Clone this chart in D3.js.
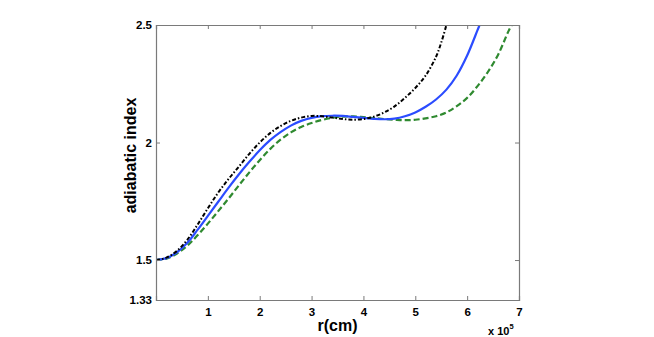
<!DOCTYPE html>
<html>
<head>
<meta charset="utf-8">
<script src="https://cdn.jsdelivr.net/npm/d3@7"></script>
<style>
  body { margin: 0; background: #fff; }
  svg text { font-family: "Liberation Sans", Arial, sans-serif; font-weight: bold; fill: #000; }
</style>
</head>
<body>
<svg id="chart"></svg>
<script>
// radius in units of 1e5 cm
var rGrid = [0, 0.2, 0.4, 0.6, 0.8, 1.0, 1.2, 1.4, 1.6, 1.8, 2.0, 2.2, 2.4, 2.6, 2.8, 3.0,
             3.2, 3.4, 3.6, 3.8, 4.0, 4.2, 4.4, 4.6, 4.8, 5.0, 5.2, 5.4, 5.6, 5.8, 6.0,
             6.2, 6.4, 6.6, 6.8];

var blackR = rGrid.slice(0, 28).concat([5.5, 5.6]);
var blackG = [1.500, 1.510, 1.538, 1.585, 1.650, 1.720, 1.787, 1.845, 1.898, 1.952, 2.000,
              2.040, 2.070, 2.092, 2.106, 2.113, 2.112, 2.106, 2.100, 2.097, 2.100, 2.110,
              2.128, 2.154, 2.190, 2.232, 2.285, 2.365, 2.425, 2.500];

var blueR = rGrid.slice(0, 32).concat([6.24]);
var blueG = [1.500, 1.508, 1.532, 1.572, 1.628, 1.688, 1.748, 1.808, 1.865, 1.918, 1.967,
             2.010, 2.044, 2.072, 2.092, 2.105, 2.112, 2.114, 2.113, 2.109, 2.105, 2.101,
             2.099, 2.102, 2.112, 2.128, 2.152, 2.183, 2.225, 2.285, 2.370, 2.478, 2.500];

var greenR = rGrid.concat([6.86]);
var greenG = [1.500, 1.506, 1.527, 1.560, 1.605, 1.655, 1.708, 1.762, 1.818, 1.873, 1.925,
              1.972, 2.012, 2.043, 2.066, 2.083, 2.096, 2.105, 2.110, 2.111, 2.108, 2.104,
              2.100, 2.097, 2.095, 2.097, 2.103, 2.112, 2.128, 2.155, 2.190, 2.240, 2.300,
              2.375, 2.475, 2.500];

var xTicks = [1, 2, 3, 4, 5, 6, 7];
var yTicks = [1.33, 1.5, 2, 2.5];

var width = 654, height = 337;
var plotLeft = 156, plotTop = 25, plotRight = 519, plotBottom = 300;

var svg = d3.select('#chart')
    .attr('width', width)
    .attr('height', height);

var x = d3.scaleLinear().domain([0, 7]).range([plotLeft, plotRight]);
var y = d3.scaleLinear().domain([1.33, 2.5]).range([plotBottom, plotTop]);

function toPoints(rs, gs) {
    return rs.map(function(r, i) { return {r: r, g: gs[i]}; });
}

var line = d3.line()
    .x(function(d) { return x(d.r); })
    .y(function(d) { return y(d.g); })
    .curve(d3.curveCatmullRom.alpha(0.5));

svg.append('clipPath').attr('id', 'plot-clip')
    .append('rect')
    .attr('x', plotLeft).attr('y', plotTop)
    .attr('width', plotRight - plotLeft).attr('height', plotBottom - plotTop);

var curves = svg.append('g').attr('clip-path', 'url(#plot-clip)');

curves.append('path')
    .datum(toPoints(greenR, greenG))
    .attr('d', line)
    .attr('fill', 'none')
    .attr('stroke', '#2f8a30')
    .attr('stroke-width', 2.2)
    .attr('stroke-dasharray', '6,3');

curves.append('path')
    .datum(toPoints(blueR, blueG))
    .attr('d', line)
    .attr('fill', 'none')
    .attr('stroke', '#2b4cff')
    .attr('stroke-width', 2.2);

curves.append('path')
    .datum(toPoints(blackR, blackG))
    .attr('d', line)
    .attr('fill', 'none')
    .attr('stroke', '#000')
    .attr('stroke-width', 2)
    .attr('stroke-dasharray', '4,2,1.5,2');

// axes box with inward ticks
var axisColor = '#7a7a7a';

var xAxisB = d3.axisBottom(x).tickValues(xTicks).tickSize(-4).tickPadding(8).tickFormat(d3.format('d'));
var xAxisT = d3.axisTop(x).tickValues(xTicks).tickSize(-4).tickFormat('');
var yAxisL = d3.axisLeft(y).tickValues(yTicks).tickSize(-4).tickPadding(4).tickFormat(function(d) { return String(d); });
var yAxisR = d3.axisRight(y).tickValues(yTicks).tickSize(-4).tickFormat('');

function styleAxis(g) {
    g.selectAll('path, line').attr('stroke', axisColor);
    g.selectAll('text').attr('font-size', 11.5).attr('font-family', null).attr('fill', '#000');
}

svg.append('g').attr('transform', 'translate(0,' + plotBottom + ')').call(xAxisB).call(styleAxis);
svg.append('g').attr('transform', 'translate(0,' + plotTop + ')').call(xAxisT).call(styleAxis);
svg.append('g').attr('transform', 'translate(' + plotLeft + ',0)').call(yAxisL).call(styleAxis);
svg.append('g').attr('transform', 'translate(' + plotRight + ',0)').call(yAxisR).call(styleAxis);

svg.selectAll('.domain').attr('stroke-width', 1.2);

// labels
svg.append('text')
    .attr('x', (plotLeft + plotRight) / 2)
    .attr('y', 331)
    .attr('text-anchor', 'middle')
    .attr('font-size', 16)
    .text('r(cm)');

svg.append('text')
    .attr('transform', 'translate(136,' + ((plotTop + plotBottom) / 2 - 7) + ') rotate(-90)')
    .attr('text-anchor', 'middle')
    .attr('font-size', 16)
    .text('adiabatic index');

var mult = svg.append('text')
    .attr('x', 488)
    .attr('y', 335)
    .attr('font-size', 11);
mult.append('tspan').text('x 10');
mult.append('tspan').attr('dy', -6).attr('font-size', 7.5).text('5');
</script>
</body>
</html>
